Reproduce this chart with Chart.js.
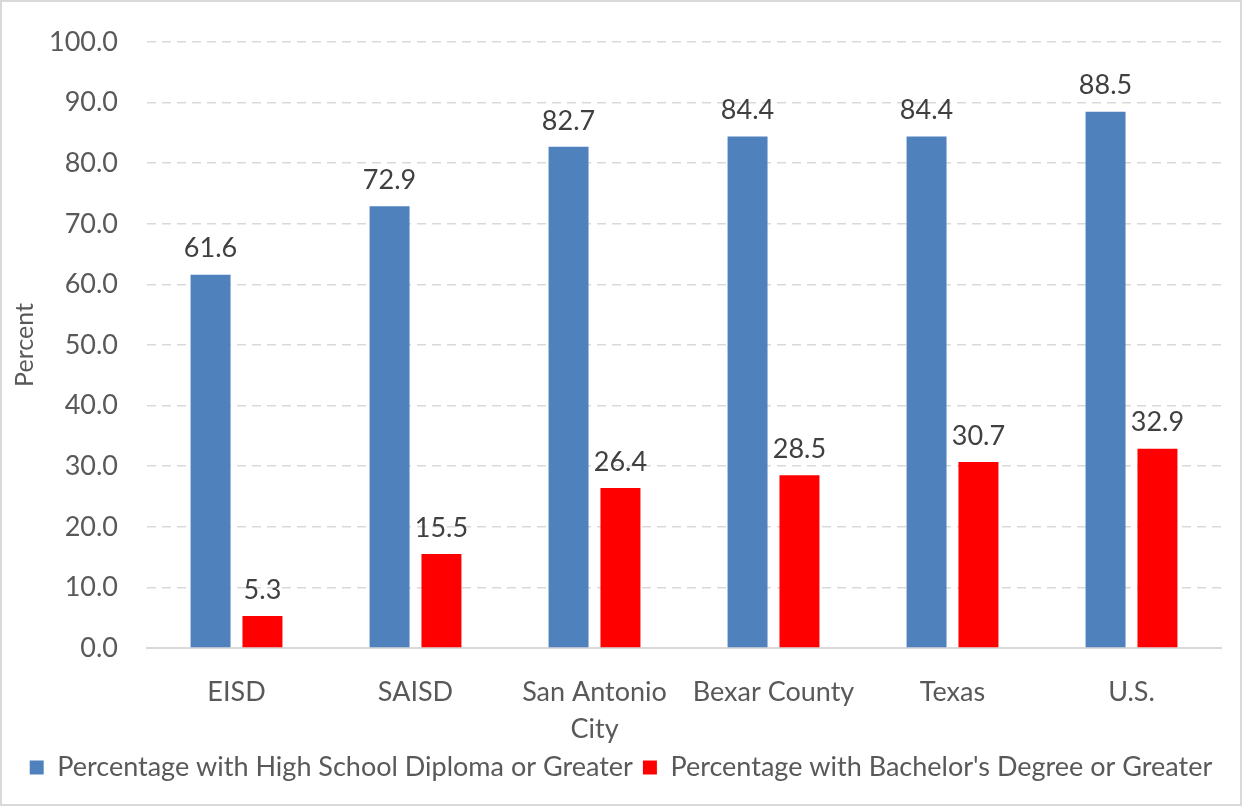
<!DOCTYPE html>
<html>
<head>
<meta charset="utf-8">
<script src="https://cdn.jsdelivr.net/npm/chart.js@4.4.1/dist/chart.umd.min.js"></script>
<style>
html,body{margin:0;padding:0;background:#fff;}
#wrap{width:1242px;height:806px;position:relative;}
</style>
</head>
<body>
<div id="wrap"><canvas id="c" width="1242" height="806"></canvas></div>
<script>
const categories = ['EISD', 'SAISD', ['San Antonio', 'City'], 'Bexar County', 'Texas', 'U.S.'];
const highSchool = [61.6, 72.9, 82.7, 84.4, 84.4, 88.5];
const bachelors = [5.3, 15.5, 26.4, 28.5, 30.7, 32.9];
const seriesNames = ['Percentage with High School Diploma or Greater', "Percentage with Bachelor's Degree or Greater"];
const yTicks = [0, 10, 20, 30, 40, 50, 60, 70, 80, 90, 100];

const FONT = 'Lato';
const FS = 27;

const borderPlugin = {
  id: 'frame',
  beforeDraw(chart) {
    const ctx = chart.ctx;
    ctx.save();
    ctx.fillStyle = '#fff';
    ctx.fillRect(0, 0, chart.width, chart.height);
    ctx.strokeStyle = '#D9D9D9';
    ctx.lineWidth = 2;
    ctx.strokeRect(1, 1, chart.width - 2, chart.height - 2);
    ctx.restore();
  }
};

const labelPlugin = {
  id: 'valueLabels',
  afterDatasetsDraw(chart) {
    const ctx = chart.ctx;
    ctx.save();
    ctx.font = FS + 'px ' + FONT;
    ctx.fillStyle = '#404040';
    ctx.textAlign = 'center';
    ctx.textBaseline = 'middle';
    chart.data.datasets.forEach((ds, i) => {
      const meta = chart.getDatasetMeta(i);
      meta.data.forEach((bar, j) => {
        ctx.fillText(ds.data[j].toFixed(1), bar.x, bar.y - 26);
      });
    });
    ctx.restore();
  }
};

new Chart(document.getElementById('c'), {
  type: 'bar',
  data: {
    labels: categories,
    datasets: [
      { label: seriesNames[0], data: highSchool, backgroundColor: '#4F81BD', categoryPercentage: 0.58, barPercentage: 0.77 },
      { label: seriesNames[1], data: bachelors, backgroundColor: '#FF0000', categoryPercentage: 0.58, barPercentage: 0.77 }
    ]
  },
  options: {
    responsive: false,
    animation: false,
    devicePixelRatio: 1,
    layout: { padding: { top: 42, right: 0, bottom: 15, left: 0 } },
    plugins: {
      legend: {
        position: 'bottom',
        labels: {
          font: { family: FONT, size: FS },
          color: '#595959',
          boxWidth: 14,
          boxHeight: 14,
          padding: 10
        }
      },
      tooltip: { enabled: false }
    },
    scales: {
      x: {
        grid: { display: false },
        border: { display: true, color: '#D9D9D9', width: 2 },
        ticks: {
          font: { family: FONT, size: FS, lineHeight: 1.4 },
          color: '#595959',
          maxRotation: 0,
          autoSkip: false,
          padding: 17
        },
        afterFit(scale) { scale.height = 96; }
      },
      y: {
        min: 0,
        max: 100,
        afterBuildTicks(scale) { scale.ticks = yTicks.map(v => ({ value: v })); },
        grid: { color: '#D9D9D9', lineWidth: 1.5, drawTicks: false },
        border: { display: false, dash: [9, 6] },
        ticks: {
          font: { family: FONT, size: FS, lineHeight: 0.9 },
          color: '#595959',
          padding: 29,
          callback: v => Number(v).toFixed(1)
        },
        title: {
          display: true,
          text: 'Percent',
          font: { family: FONT, size: 25 },
          color: '#595959',
          padding: { top: 10, bottom: 0 }
        },
        afterFit(scale) { scale.width = 147; }
      },
      yRight: {
        position: 'right',
        display: true,
        grid: { display: false },
        border: { display: false },
        ticks: { display: false },
        afterFit(scale) { scale.width = 21; }
      }
    }
  },
  plugins: [borderPlugin, labelPlugin]
});
</script>
</body>
</html>
